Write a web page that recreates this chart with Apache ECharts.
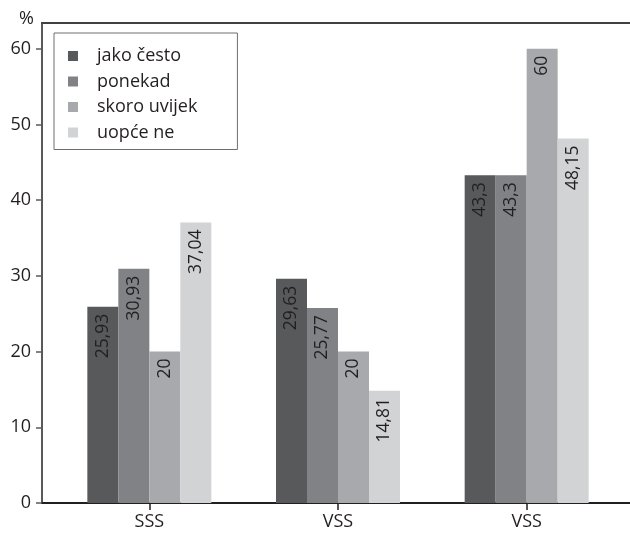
<!DOCTYPE html>
<html>
<head>
<meta charset="utf-8">
<script src="https://cdn.jsdelivr.net/npm/echarts@6/dist/echarts.min.js"></script>
<style>
  html, body { margin: 0; padding: 0; background: #fff; }
  #chart { width: 630px; height: 533px; }
</style>
</head>
<body>
<div id="chart"></div>
<script>
// Categories along the x axis
const categories = ['SSS', 'VSS', 'VSS'];

// Response shares (%) per category
const seriesNames = ['jako često', 'ponekad', 'skoro uvijek', 'uopće ne'];
const jakoCesto = [25.93, 29.63, 43.3];
const ponekad = [30.93, 25.77, 43.3];
const skoroUvijek = [20, 20, 60];
const uopceNe = [37.04, 14.81, 48.15];

// Y axis tick values
const yTicks = [0, 10, 20, 30, 40, 50, 60];

const seriesData = [jakoCesto, ponekad, skoroUvijek, uopceNe];
const colors = ['#58595b', '#808285', '#a7a9ac', '#d1d3d4'];
const FONT = '"Open Sans", "Noto Sans", sans-serif';
const TEXT = '#231f20';
const Y_MAX = 63.4;

const chart = echarts.init(document.getElementById('chart'));

const fmt = v => String(v).replace('.', ',');

chart.setOption({
  animation: false,
  color: colors,
  textStyle: { fontFamily: FONT },
  legend: {
    data: seriesNames,
    orient: 'vertical',
    left: 54,
    top: 33,
    padding: [14, 40, 8, 14],
    borderColor: '#6d6e71',
    borderWidth: 1,
    itemWidth: 10,
    itemHeight: 10,
    itemGap: 7.5,
    icon: 'rect',
    textStyle: { fontFamily: FONT, fontSize: 18, color: TEXT, lineHeight: 18, padding: [0, 0, 0, 14] }
  },
  grid: [
    // bars
    { left: 55, right: 9, top: 23, bottom: 30, containLabel: false, outerBoundsMode: 'none' },
    // frame
    { left: 42, right: 0, top: 23, bottom: 30, containLabel: false, outerBoundsMode: 'none' }
  ],
  xAxis: [
    {
      gridIndex: 0,
      type: 'category',
      data: categories,
      axisLine: { show: false },
      axisTick: { show: true, alignWithLabel: true, length: 7, lineStyle: { color: TEXT, width: 1.5 } },
      axisLabel: { fontFamily: FONT, fontSize: 18, color: TEXT, margin: 10 },
      splitLine: { show: false }
    },
    {
      gridIndex: 1,
      type: 'value',
      position: 'bottom',
      min: 0, max: 1,
      axisLine: { show: true, onZero: false, lineStyle: { color: TEXT, width: 2 } },
      axisTick: { show: false },
      axisLabel: { show: false },
      splitLine: { show: false }
    },
    {
      gridIndex: 1,
      type: 'value',
      position: 'top',
      min: 0, max: 1,
      axisLine: { show: true, onZero: false, lineStyle: { color: '#414042', width: 2 } },
      axisTick: { show: false },
      axisLabel: { show: false },
      splitLine: { show: false }
    }
  ],
  yAxis: [
    {
      gridIndex: 0,
      type: 'value',
      min: 0, max: Y_MAX,
      show: false
    },
    {
      gridIndex: 1,
      type: 'value',
      min: 0, max: Y_MAX,
      interval: 10,
      name: '%',
      nameLocation: 'end',
      nameGap: 4,
      nameTextStyle: { fontFamily: FONT, fontSize: 18, color: TEXT, align: 'right', verticalAlign: 'middle', padding: [0, 8, 0, 0] },
      axisLine: { show: true, lineStyle: { color: '#58595b', width: 2 } },
      axisTick: { show: true, length: 6, customValues: yTicks, lineStyle: { color: '#58595b', width: 1.5 } },
      axisLabel: { fontFamily: FONT, fontSize: 18, color: TEXT, margin: 11, customValues: yTicks },
      splitLine: { show: false }
    }
  ],
  series: seriesNames.map((name, i) => ({
    name,
    type: 'bar',
    xAxisIndex: 0,
    yAxisIndex: 0,
    data: seriesData[i],
    barWidth: 31,
    barGap: '0%',
    itemStyle: { color: colors[i] },
    label: {
      show: true,
      position: 'insideTop',
      distance: 7,
      rotate: 90,
      align: 'right',
      verticalAlign: 'middle',
      fontFamily: FONT,
      fontSize: 17.5,
      color: TEXT,
      formatter: p => fmt(p.value)
    }
  }))
});
</script>
</body>
</html>
